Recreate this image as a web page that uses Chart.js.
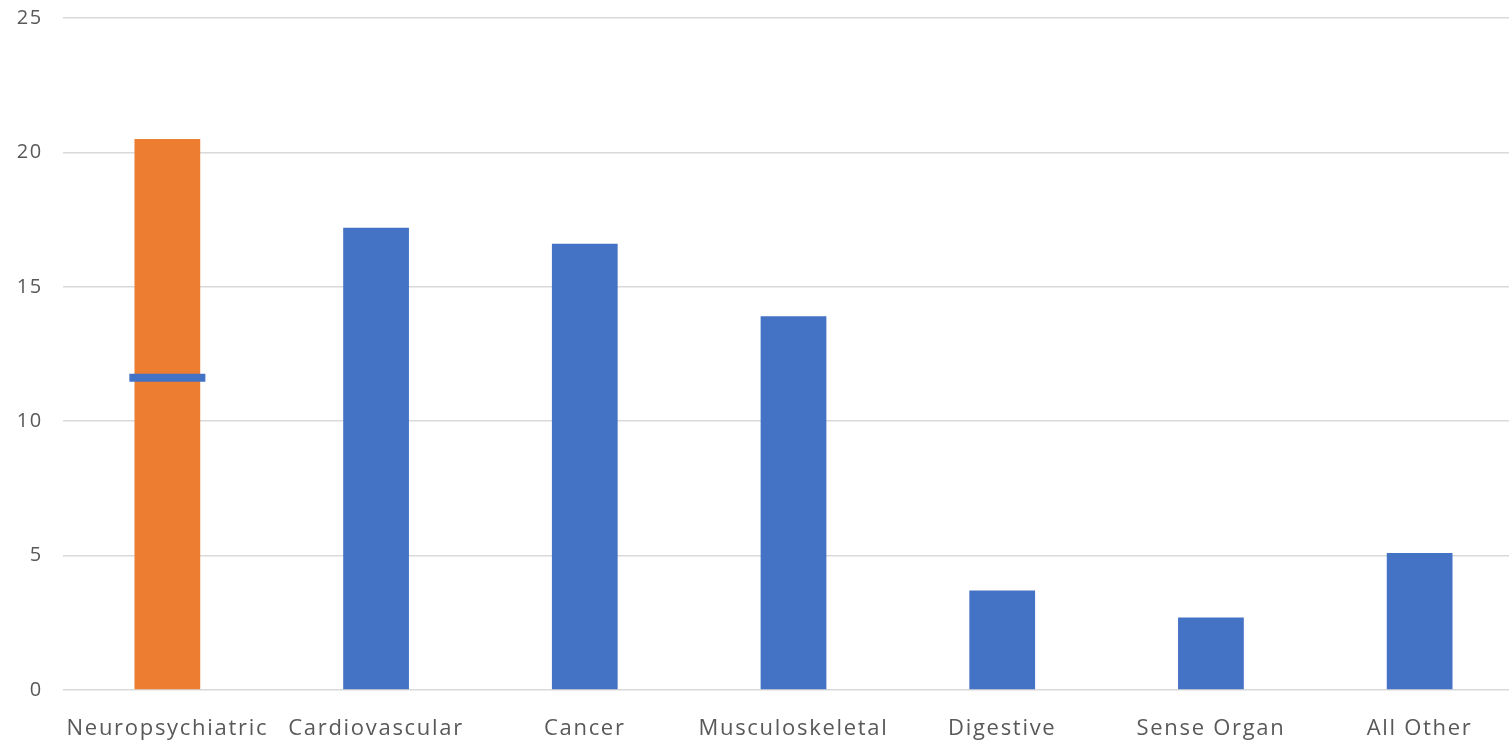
<!DOCTYPE html>
<html>
<head>
<meta charset="utf-8">
<script src="https://cdn.jsdelivr.net/npm/chart.js@4/dist/chart.umd.min.js"></script>
<style>
  html, body { margin: 0; padding: 0; background: #ffffff; overflow: hidden; }
  /* the plot runs a little past the right edge of the window */
  #wrap { width: 1524px; height: 742px; position: relative; }
</style>
</head>
<body>
<div id="wrap"><canvas id="c"></canvas></div>
<script>
// Disease burden by category
const categories = ['Neuropsychiatric', 'Cardiovascular', 'Cancer', 'Musculoskeletal', 'Digestive', 'Sense Organ', 'All Other'];
const burden = [20.5, 17.2, 16.6, 13.9, 3.7, 2.7, 5.1];
// Reference level shown as a bar across the first category
const markerLevel = [11.62, null, null, null, null, null, null];
const yTicks = [0, 5, 10, 15, 20, 25];

const BLUE = '#4472c4';
const ORANGE = '#ed7d31';
const barColors = categories.map((_, i) => i === 0 ? ORANGE : BLUE);

// Slightly spaced glyphs for the axis text
const spacing = {
  id: 'spacing',
  beforeLayout(chart) { chart.ctx.letterSpacing = '1.7px'; },
  beforeDraw(chart) { chart.ctx.letterSpacing = '1.7px'; }
};

new Chart(document.getElementById('c'), {
  data: {
    labels: categories,
    datasets: [
      {
        type: 'line',
        data: markerLevel,
        showLine: false,
        pointStyle: 'line',
        pointRadius: 38,
        pointHoverRadius: 38,
        pointBorderWidth: 8,
        pointBorderColor: BLUE,
        borderColor: BLUE,
        order: 0
      },
      {
        type: 'bar',
        data: burden,
        backgroundColor: barColors,
        barPercentage: 0.315,
        categoryPercentage: 1,
        order: 1
      }
    ]
  },
  options: {
    responsive: true,
    maintainAspectRatio: false,
    animation: false,
    layout: { autoPadding: false, padding: { left: 17, right: 0, top: 18, bottom: 0 } },
    plugins: { legend: { display: false }, tooltip: { enabled: false } },
    scales: {
      x: {
        grid: { display: false },
        border: { display: false },
        ticks: {
          color: '#595959',
          font: { family: 'Open Sans', size: 22 },
          padding: 18,
          maxRotation: 0,
          autoSkip: false
        },
        afterFit(scale) {
          scale.height = 52;
          scale.paddingLeft = 0;
          scale.paddingRight = 0;
        }
      },
      y: {
        min: 0,
        max: 25,
        afterBuildTicks(axis) { axis.ticks = yTicks.map(v => ({ value: v })); },
        grid: { color: '#d9d9d9', lineWidth: 1.5, drawTicks: false },
        border: { display: false },
        ticks: {
          color: '#595959',
          font: { family: 'Open Sans', size: 20 },
          padding: 20
        },
        afterFit(scale) {
          scale.width = 46;
          scale.paddingTop = 0;
          scale.paddingBottom = 0;
        }
      }
    }
  },
  plugins: [spacing]
});
</script>
</body>
</html>
